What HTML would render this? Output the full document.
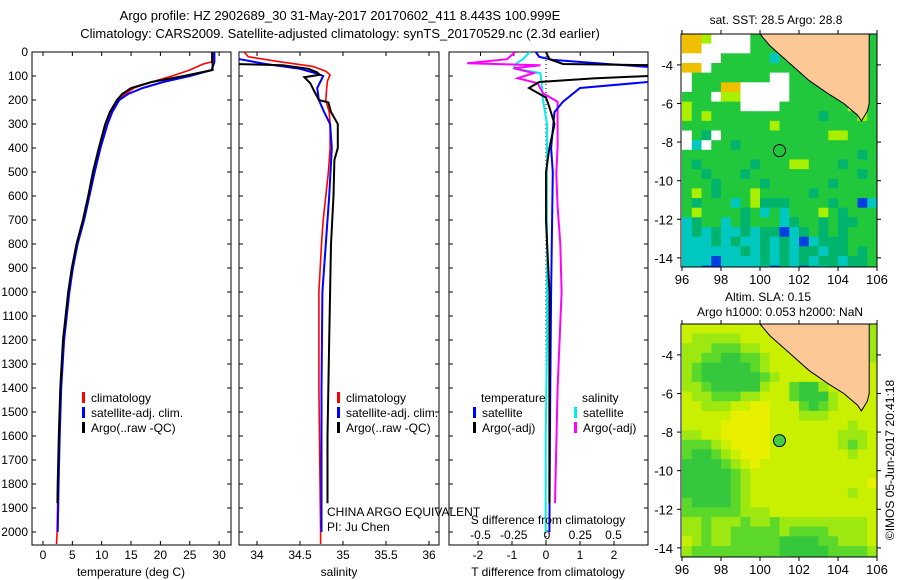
<!DOCTYPE html>
<html><head><meta charset="utf-8"><style>
body{margin:0;background:#fff}
svg{display:block;font-family:"Liberation Sans",sans-serif}
text{font-size:12px;fill:#000}
</style></head><body>
<svg id="fig" width="900" height="580" viewBox="0 0 900 580">
<defs>
<clipPath id="c1"><rect x="32" y="52" width="199" height="493"/></clipPath>
<clipPath id="c2"><rect x="239" y="52" width="200" height="493"/></clipPath>
<clipPath id="c3"><rect x="449" y="52" width="199" height="493"/></clipPath>
<clipPath id="m1"><rect x="681" y="34" width="196" height="233"/></clipPath>
<clipPath id="m2"><rect x="681" y="324" width="196" height="233"/></clipPath>
</defs>
<text x="340" y="20" text-anchor="middle" style="font-size:13px">Argo profile: HZ 2902689_30 31-May-2017 20170602_411 8.443S 100.999E</text>
<text x="340" y="38" text-anchor="middle" style="font-size:13px">Climatology: CARS2009. Satellite-adjusted climatology: synTS_20170529.nc (2.3d earlier)</text>
<g id="g"></g>
</svg>
<script>
// ---- data ----
const depthTicks=[0,100,200,300,400,500,600,700,800,900,1000,1100,1200,1300,1400,1500,1600,1700,1800,1900,2000];
const tempTicks=[0,5,10,15,20,25,30];
const salTicks=[34,34.5,35,35.5,36];
const salTickLabels=["34","34.5","35","35.5","36"];
const tdTicks=[-2,-1,0,1,2];
const sdTicks=[-0.5,-0.25,0,0.25,0.5];
const sdTickLabels=["-0.5","-0.25","0","0.25","0.5"];

const climDepth=[0,40,50,75,100,125,150,175,200,250,300,400,500,600,700,800,900,1000,1200,1400,1600,1800,2000,2050];
const climTemp=[29.0,28.9,27.3,25.0,22.0,18.5,15.5,14.0,12.8,11.5,10.7,9.6,8.6,7.8,6.9,5.8,5.0,4.4,3.5,3.0,2.75,2.55,2.4,2.3];
const satDepth=[0,40,50,75,100,125,150,175,200,250,300,400,500,600,700,800,900,1000,1200,1400,1600,1800,2000];
const satTemp=[29.2,29.2,29.1,28.7,25.0,20.5,17.0,14.5,13.0,11.8,11.0,9.8,8.8,7.9,7.0,5.9,5.1,4.5,3.6,3.1,2.85,2.65,2.5];
const argoDepth=[0,40,50,75,100,125,150,175,200,250,300,400,500,600,700,800,900,1000,1200,1400,1600,1800,1880];
const argoTemp=[28.8,28.8,28.9,28.9,24.0,18.5,15.0,13.5,12.6,11.4,10.6,9.5,8.5,7.7,6.8,5.7,4.9,4.3,3.4,2.95,2.7,2.5,2.45];

const climSDepth=[0,20,40,60,80,95,120,150,200,250,300,400,500,700,800,1000,1400,2000,2050];
const climSal=[33.85,33.9,34.25,34.65,34.8,34.85,34.82,34.81,34.8,34.84,34.85,34.85,34.83,34.77,34.75,34.72,34.72,34.74,34.74];
const satSDepth=[25,30,50,70,90,100,150,200,250,300,400,600,800,1000,1400,2000];
const satSal=[33.7,33.8,34.1,34.5,34.7,34.77,34.7,34.72,34.78,34.85,34.87,34.84,34.8,34.76,34.75,34.75];
const argoSDepth=[50,55,70,85,95,105,130,160,200,210,250,300,400,450,600,800,1200,1600,1880];
const argoSal=[33.75,34.3,34.6,34.7,34.73,34.55,34.62,34.66,34.72,34.83,34.86,34.94,34.94,34.9,34.89,34.86,34.84,34.82,34.82];

const satTDDepth=[0,20,33,50,67,120,125,150,207,250,400,500,1000,1500,2000];
const satTD=[-0.3,-0.2,0.2,1.8,3.5,3.5,3.0,1.0,0.5,0.25,0.15,0.2,0.15,0.12,0.1];
const argoTDDepth=[0,30,50,55,65,100,110,125,150,190,230,300,400,500,700,1000,1500,1880];
const argoTD=[0,0.1,0.5,3.2,3.2,3.0,1.4,-0.2,-0.5,0,0.1,0.25,0.1,0.0,0.0,0.1,0.1,0.1];
const satSDDepth=[0,30,47,68,88,130,200,300,500,800,1200,1600,2000];
const satSD=[-0.13,-0.18,-0.23,-0.25,-0.05,-0.04,-0.03,0.0,0.0,0.0,0.0,-0.01,-0.01];
const argoSDDepth=[0,30,47,55,68,88,109,130,172,207,297,394,505,644,800,1000,1400,1880];
const argoSD=[-0.24,-0.3,-0.6,-0.05,-0.25,-0.1,-0.22,-0.07,-0.03,0.08,0.08,0.08,0.07,0.08,0.1,0.11,0.08,0.06];

const lonTicks=[96,98,100,102,104,106];
const latTicks=[-4,-6,-8,-10,-12,-14];
const sstRows=["ooywwwwggwwwgggggggg","oowwwwwggggwgggggggg","wwwwgggggcggwggggggg","oowgggggggggwggggggg","wggggggggwwggggggggg","wgggoowwwwwggggggggg","gggwyywwwwwggggggggg","ygggggwwwwgggggggyyg","ygygggggggggggGgggyg","gggggggggygggggggggg","wgGwgggggggggggyyggg","wcwggGgggggggggggggg","ggggggggggggggggggGg","gGgggggGgggyygggGggg","ggGgggGgggggggggggGg","gggGggggGggggggGgggg","gygGgggygggggGgggggg","gGgggcgyGGGggggGggbc","gyggggGgcgcgggygGggg","cGggcgGgggcGggGgGGgg","cGcGccGcGGbcGgGgGggg","cccGcGccGcGcbcGGGggg","ccccccGcGcGcGGcGGgGg","cccbccccGcGcGcGGcGGg","ccbbcccccbGcbGcGGGGg"];
const slaRows=["lllllllllllmlllmllmm","lmmmmmlllllmlllmmmmm","mmmgggmmllllllllmmmm","mmggGGggmllllllllmmm","mgGGGGGgmllllllllmml","mgGGGGGGgmlllllllmml","mmgGGGGGmllgGGmlllml","lmmgggmmlllgGGGmllll","llmmmllyylllgGgmllll","lllllyyyylllmmmlllll","llllyyyyyllllllllmll","mmllyyyyylllllllmmml","gggmlyyyylllllllmgml","gGGgmlyyyllllllllmll","GGGGgmlyllllllllllll","GGGGGgmlllllllllllll","GGGGGgmlllllllllllly","GGGGGgmllllllllllmll","gGGGGgmlllllllllllll","ggggggmmmlllllllllll","mmgmmmgmmgmmmmmmmmml","mmgmmgggggmggggmmmml","lmgmmgggggGGGGggmmml","mgggggggggGGGGGggggm","gggggggggggGGGGggggg"];
const landLon=[100.0,100.5,101.5,102.5,103.5,104.3,105.0,105.2,105.5,105.6,105.6];
const landLat=[-2.4,-3.0,-3.9,-4.8,-5.5,-6.0,-6.6,-6.9,-6.4,-6.0,-2.4];
const argoLon=[100.999];
const argoLat=[-8.443];

// ---- scales ----
const yD=d=>52+d*0.24;
const xT=v=>43+v*5.87;
const xS=v=>257+(v-34)*86;
const xTD=v=>546+v*34;
const xSD=v=>547+v*133;
const lx=l=>682+(l-96)*19.5;
const ly=(l,off)=>off+34+(-2.4-l)*19.3;

const NS="http://www.w3.org/2000/svg";
const G=document.getElementById('g');
function mk(tag,at,parent){const e=document.createElementNS(NS,tag);for(const k in at)e.setAttribute(k,at[k]);(parent||G).appendChild(e);return e;}
function txt(x,y,s,anchor,parent){const t=mk('text',{x:x,y:y,'text-anchor':anchor||'start'},parent);t.textContent=s;return t;}

function panel(x0,w,name){
  const r=mk('rect',{x:x0,y:52,width:w,height:493,fill:'none',stroke:'#000','stroke-width':1});
  
  
  depthTicks.forEach(d=>{
    mk('line',{x1:x0,x2:x0+4,y1:yD(d),y2:yD(d),stroke:'#000'});
    mk('line',{x1:x0+w-4,x2:x0+w,y1:yD(d),y2:yD(d),stroke:'#000'});
  });
}
function series(dep,val,xf,color,sw,clip,name){
  const pts=dep.map((d,i)=>xf(val[i]).toFixed(1)+','+yD(d).toFixed(1)).join(' ');
  const p=mk('polyline',{points:pts,fill:'none',stroke:color,'stroke-width':sw,'clip-path':'url(#'+clip+')'});
  
  
}
// panel 1
panel(32,199,'temperature-panel');
depthTicks.forEach(d=>{const t=txt(28,yD(d)+4,String(d),'end');});
tempTicks.forEach(v=>{mk('line',{x1:xT(v),x2:xT(v),y1:52,y2:56,stroke:'#000'});mk('line',{x1:xT(v),x2:xT(v),y1:541,y2:545,stroke:'#000'});
  const t=txt(xT(v),559,String(v),'middle');});
series(climDepth,climTemp,xT,'#f00',1.6,'c1','temp-climatology-line');
series(satDepth,satTemp,xT,'#00f',2,'c1','temp-satellite-line');
series(argoDepth,argoTemp,xT,'#000',2,'c1','temp-argo-line');
{const t=txt(131,576,'temperature (deg C)','middle');}
// panel 2
panel(239,200,'salinity-panel');
salTicks.forEach((v,i)=>{mk('line',{x1:xS(v),x2:xS(v),y1:52,y2:56,stroke:'#000'});mk('line',{x1:xS(v),x2:xS(v),y1:541,y2:545,stroke:'#000'});
  const t=txt(xS(v),559,salTickLabels[i],'middle');});
series(climSDepth,climSal,xS,'#f00',1.6,'c2','sal-climatology-line');
series(satSDepth,satSal,xS,'#00f',2,'c2','sal-satellite-line');
series(argoSDepth,argoSal,xS,'#000',2,'c2','sal-argo-line');
{const t=txt(339,576,'salinity','middle');}
// panel 3
panel(449,199,'difference-panel');
tdTicks.forEach(v=>{mk('line',{x1:xTD(v),x2:xTD(v),y1:541,y2:545,stroke:'#000'});
  const t=txt(xTD(v),559,String(v),'middle');});
sdTicks.forEach((v,i)=>{mk('line',{x1:xSD(v),x2:xSD(v),y1:52,y2:56,stroke:'#000'});
  const t=txt(xSD(v),539,sdTickLabels[i],'middle');});
mk('line',{x1:xTD(0),x2:xTD(0),y1:52,y2:545,stroke:'#000','stroke-dasharray':'1,3'});
series(satSDDepth,satSD,xSD,'#0ee',2,'c3','sdiff-satellite-line');
series(argoSDDepth,argoSD,xSD,'#f0f',2,'c3','sdiff-argo-line');
series(satTDDepth,satTD,xTD,'#00f',2,'c3','tdiff-satellite-line');
series(argoTDDepth,argoTD,xTD,'#000',2,'c3','tdiff-argo-line');
{const t=txt(548,524,'S difference from climatology','middle');}
{const t=txt(548,576,'T difference from climatology','middle');}
// legends
function leg(x,y,c,s,name){mk('rect',{x:x,y:y-10,width:3,height:11,fill:c});const t=txt(x+9,y,s);}
leg(82,402,'#f00','climatology','legend-climatology');leg(82,417,'#00f','satellite-adj. clim.','legend-satellite');leg(82,432,'#000','Argo(..raw -QC)','legend-argo');
leg(337,402,'#f00','climatology','legend-climatology-2');leg(337,417,'#00f','satellite-adj. clim.','legend-satellite-2');leg(337,432,'#000','Argo(..raw -QC)','legend-argo-2');
{const t=txt(481,402,'temperature');}
{const t=txt(582,402,'salinity');}
leg(473,417,'#00f','satellite','legend-t-satellite');leg(473,432,'#000','Argo(-adj)','legend-t-argo');
leg(574,417,'#0ee','satellite','legend-s-satellite');leg(574,432,'#f0f','Argo(-adj)','legend-s-argo');
{const t=txt(327,516,'CHINA ARGO EQUIVALENT');}
{const t=txt(327,531,'PI: Ju Chen');}

// maps
const sstCol={o:'#f0c000',y:'#a8f000',w:'#ffffff',g:'#22c83c',G:'#00b46e',c:'#00c8c0',b:'#0040e0'};
const slaCol={y:'#e8f000',l:'#c8f000',m:'#9ee812',g:'#5cd82a',G:'#36c83c'};
function map(rows,cols,off,clip,name,filledDot){
  const grp=mk('g',{'clip-path':'url(#'+clip+')'});
  
  
  rows.forEach((row,ri)=>{for(let ci=0;ci<20;ci++){const ch=row[ci]||row[row.length-1];
    const lon=96+ci*0.5, lat=-2.4-ri*0.5;
    mk('rect',{x:lx(lon).toFixed(1),y:ly(lat,off).toFixed(1),width:10.2,height:10.1,fill:cols[ch]},grp);}});
  const pts=landLon.map((l,i)=>lx(l).toFixed(1)+','+ly(landLat[i],off).toFixed(1));
  const land=mk('polygon',{points:pts.join(' '),fill:'#fcc896',stroke:'#000','stroke-width':1},grp);
  
  argoLon.forEach((l,i)=>{const c=mk('circle',{cx:lx(l),cy:ly(argoLat[i],off),r:6,fill:filledDot?'#44cc44':'none',stroke:'#000','stroke-width':1},grp);
    });
  mk('rect',{x:681,y:off+34,width:196,height:233,fill:'none',stroke:'#000'});
  lonTicks.forEach(l=>{mk('line',{x1:lx(l),x2:lx(l),y1:off+30,y2:off+34,stroke:'#000'});mk('line',{x1:lx(l),x2:lx(l),y1:off+267,y2:off+271,stroke:'#000'});
    const t=txt(lx(l),off+284,String(l),'middle');t.style.fontSize='13px';});
  latTicks.forEach(l=>{mk('line',{x1:677,x2:681,y1:ly(l,off),y2:ly(l,off),stroke:'#000'});mk('line',{x1:877,x2:881,y1:ly(l,off),y2:ly(l,off),stroke:'#000'});
    const t=txt(673,ly(l,off)+5,String(l),'end');t.style.fontSize='13px';});
}
map(sstRows,sstCol,0,'m1','sst-map',false);
map(slaRows,slaCol,290,'m2','sla-map',true);
{const t=txt(776,24,'sat. SST: 28.5 Argo: 28.8','middle');}
{const t=txt(768,301,'Altim. SLA: 0.15','middle');}
{const t=txt(780,316,'Argo h1000: 0.053 h2000: NaN','middle');}
{const t=txt(0,0,'©IMOS 05-Jun-2017 20:41:18','middle');t.setAttribute('transform','translate(894,460) rotate(-90)');}
</script>
</body></html>
